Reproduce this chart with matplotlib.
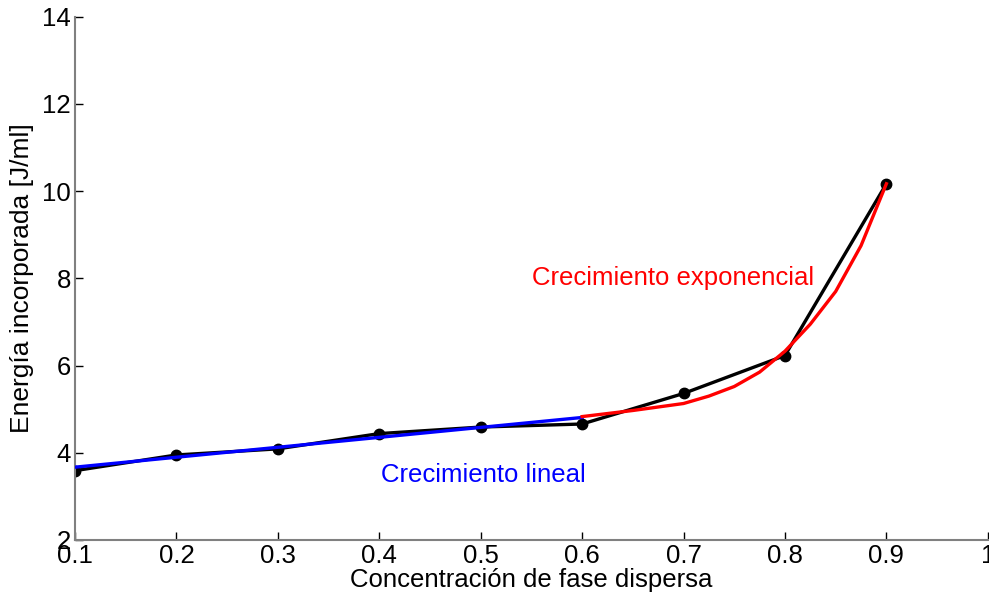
import matplotlib
matplotlib.use('Agg')
import matplotlib.pyplot as plt

# Datos medidos
concentracion = [0.1, 0.2, 0.3, 0.4, 0.5, 0.6, 0.7, 0.8, 0.9]
energia = [3.59, 3.95, 4.09, 4.44, 4.59, 4.66, 5.36, 6.23, 10.17]

# Ajuste lineal (tramo 0.1 - 0.6)
x_lineal = [0.1, 0.6]
y_lineal = [3.67, 4.81]

# Ajuste exponencial (tramo 0.6 - 0.9)
x_expo = [0.6, 0.625, 0.65, 0.675, 0.7, 0.725, 0.75, 0.775, 0.8, 0.825, 0.85, 0.875, 0.9]
y_expo = [4.83, 4.90, 4.97, 5.05, 5.13, 5.30, 5.52, 5.85, 6.33, 6.95, 7.70, 8.75, 10.17]

plt.rcParams['font.family'] = ['Liberation Sans', 'DejaVu Sans']

fig = plt.figure(figsize=(9.89, 5.98), dpi=100)
ax = fig.add_axes([0.0758, 0.097, 0.923, 0.875])

ax.plot(concentracion, energia, color='black', lw=2.4, marker='o', markersize=7.5, zorder=2)
ax.plot(x_lineal, y_lineal, color='blue', lw=2.4, zorder=3)
ax.plot(x_expo, y_expo, color='red', lw=2.4, zorder=3)

ax.text(0.551, 8.0, 'Crecimiento exponencial', color='red', fontsize=18.5, va='center', ha='left')
ax.text(0.402, 3.5, 'Crecimiento lineal', color='blue', fontsize=18.5, va='center', ha='left')

ax.set_xlim(0.1, 1)
ax.set_ylim(2, 14)
ax.set_xticks([0.1, 0.2, 0.3, 0.4, 0.5, 0.6, 0.7, 0.8, 0.9, 1])
ax.set_xticklabels(['0.1', '0.2', '0.3', '0.4', '0.5', '0.6', '0.7', '0.8', '0.9', '1'])
ax.set_yticks([2, 4, 6, 8, 10, 12, 14])

for s in ['top', 'right']:
    ax.spines[s].set_visible(False)
for s in ['left', 'bottom']:
    ax.spines[s].set_color('#808080')
    ax.spines[s].set_linewidth(1.5)

ax.tick_params(direction='in', length=6, width=1, colors='black', labelsize=18.5, pad=3)
ax.set_xlabel('Concentración de fase dispersa', fontsize=18.5, labelpad=0)
ax.set_ylabel('Energía incorporada [J/ml]', fontsize=19, labelpad=6)

fig.savefig('out.png', dpi=100)
